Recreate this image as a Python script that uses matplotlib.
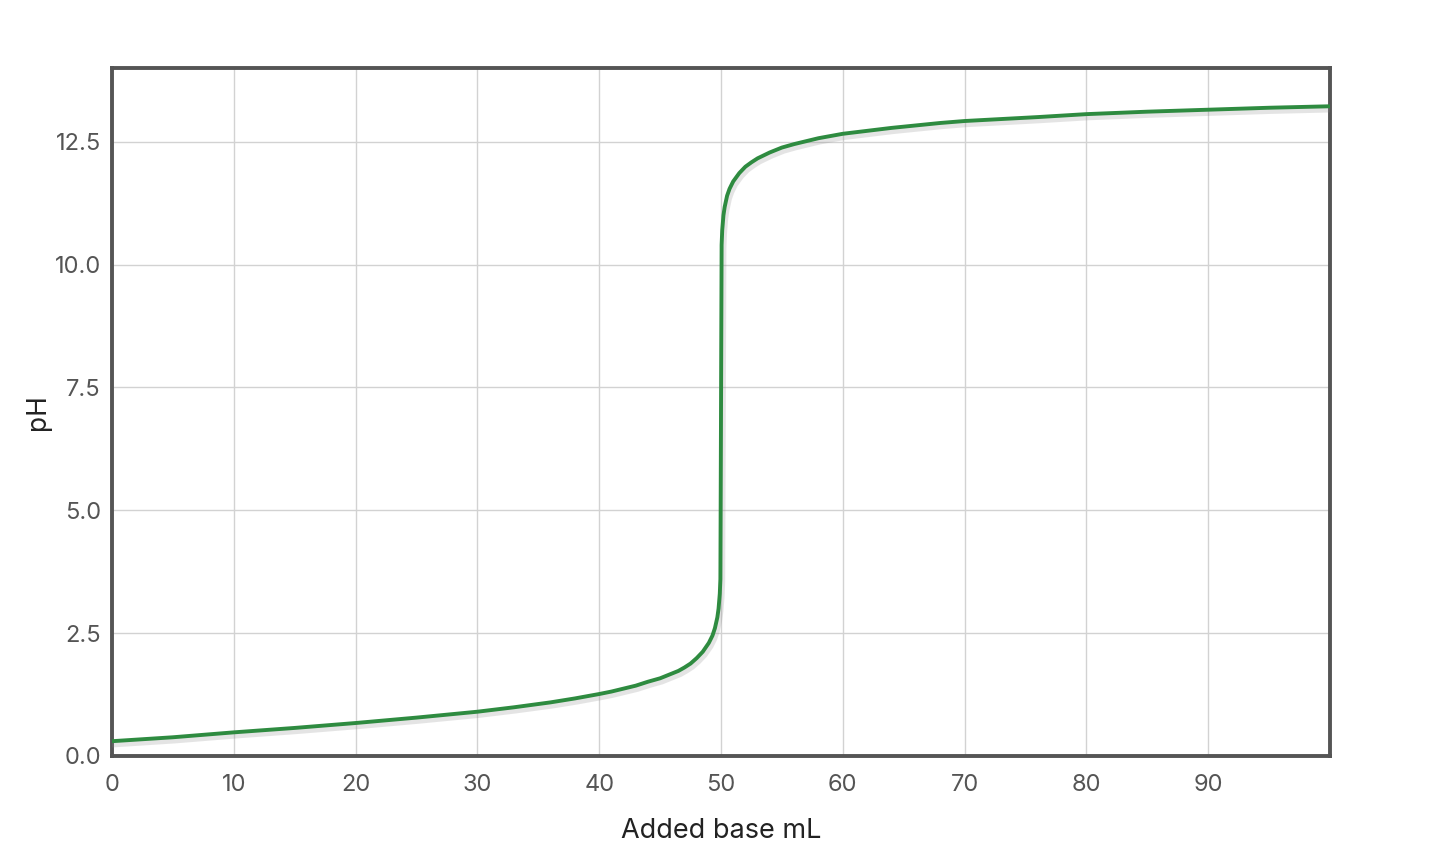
import matplotlib

matplotlib.use("Agg")
import matplotlib.pyplot as plt
import matplotlib.patheffects as pe

plt.rcParams["font.family"] = ["Inter", "DejaVu Sans"]

FRAME = "#555555"
GRID_COL = "#d2d2d2"
TICK_COL = "#555555"
LABEL_COL = "#222222"
C_LINE = "#2e8b40"

# volume of base added (mL) and pH
VOLUME = [0, 5, 10, 15, 20, 25, 30, 33, 36, 38, 40, 41, 42, 43, 44, 45,
          46, 46.5, 47, 47.5, 48, 48.5, 49, 49.3, 49.5, 49.7, 49.8, 49.9,
          49.95, 50, 50.05, 50.1, 50.2, 50.3, 50.5, 50.7, 51, 51.5, 52,
          52.5, 53, 54, 55, 56, 57, 58, 60, 62, 64, 66, 68, 70, 73, 76, 80,
          85, 90, 95, 100]
PH = [0.30, 0.38, 0.48, 0.57, 0.67, 0.78, 0.90, 0.99, 1.09, 1.17, 1.26,
      1.31, 1.37, 1.43, 1.51, 1.58, 1.68, 1.73, 1.80, 1.88, 1.99, 2.12,
      2.30, 2.45, 2.60, 2.82, 3.00, 3.30, 3.60, 7.00, 10.40, 10.70, 11.00,
      11.17, 11.40, 11.54, 11.69, 11.86, 11.99, 12.08, 12.16, 12.28,
      12.38, 12.45, 12.51, 12.57, 12.66, 12.72, 12.78, 12.83, 12.88, 12.92,
      12.96, 13.00, 13.06, 13.11, 13.15, 13.19, 13.22]

X_TICKS = [0, 10, 20, 30, 40, 50, 60, 70, 80, 90]
Y_TICKS = [0.0, 2.5, 5.0, 7.5, 10.0, 12.5]


def main():
    fig = plt.figure(figsize=(14.4, 8.6), dpi=100)
    ax = fig.add_axes([0.0778, 0.121, 0.8458, 0.800])

    ax.plot(
        VOLUME,
        PH,
        color=C_LINE,
        linewidth=2.8,
        solid_joinstyle="round",
        zorder=4,
        path_effects=[
            pe.SimpleLineShadow(offset=(1.2, -2.2), shadow_color="#888888",
                                alpha=0.22, linewidth=4.5),
            pe.Normal(),
        ],
    )

    ax.set_xlim(0, 100)
    ax.set_ylim(0, 14)
    ax.set_xticks(X_TICKS)
    ax.set_yticks(Y_TICKS)
    ax.set_yticklabels([f"{v:.1f}" for v in Y_TICKS])
    ax.tick_params(length=0, labelsize=17, colors=TICK_COL)
    ax.tick_params(axis="x", pad=13)
    ax.tick_params(axis="y", pad=8)
    ax.grid(color=GRID_COL, linewidth=1.0, zorder=0)
    ax.set_axisbelow(True)

    for sp in ax.spines.values():
        sp.set_color(FRAME)
        sp.set_linewidth(2.8)

    ax.set_xlabel("Added base mL", fontsize=19.5, color=LABEL_COL, labelpad=16)
    ax.set_ylabel("pH", fontsize=19, color=LABEL_COL, labelpad=3)

    fig.savefig("out.png", dpi=100, facecolor="white")
    plt.close(fig)


if __name__ == "__main__":
    main()
